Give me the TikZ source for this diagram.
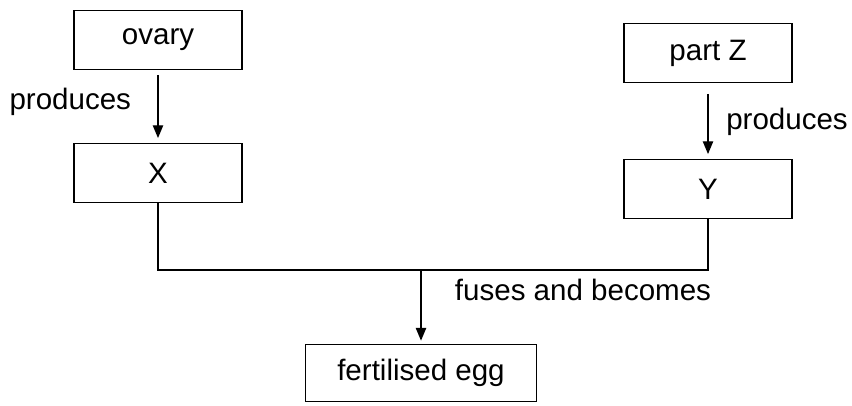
\documentclass[tikz,border=0pt]{standalone}
\usepackage{fontspec}
\setmainfont{Liberation Sans}
\usetikzlibrary{arrows.meta, positioning}
\tikzset{
	box/.style={draw=black, line width=0.9pt, minimum width=4.2cm, minimum height=1.475cm, inner sep=0pt},
	arrowline/.style={line width=0.9pt, -{Triangle[length=0.32cm, width=0.26cm]}}
}

\begin{document}
\begin{tikzpicture}[x=0.025cm, y=-0.025cm, every node/.append style={font=\fontsize{21}{25}\selectfont}]
	\useasboundingbox (0,0) rectangle (852,406);
	\node[box] at (158, 40) (ovary){ovary};
	\node[box] at (158, 173) (X){X};
	\node[box] at (708, 53) (partZ){part Z};
	\node[box] at (708, 189) (Y){Y};
	\node[box, minimum width=5.775cm, minimum height=1.425cm] at (421, 373) (egg){fertilised egg};
	\node[anchor=base east] at (136, 110) (prodL){produces};
	\node[anchor=base west, inner sep=0pt] at (726, 130) (prodR){produces};
	\node[anchor=base west] at (450, 300) (fuses){fuses and becomes};
	\coordinate (join) at (421, 270);
		\draw[arrowline, shorten <=0.12cm, shorten >=0.12cm] (ovary) -- (X);
		\draw[arrowline, shorten <=0.27cm, shorten >=0.12cm] (partZ) -- (Y);
		\draw[line width=0.9pt] (X.south) |- (join) -| (Y.south);
		\draw[arrowline, shorten >=0.08cm] (join) -- (egg);
\end{tikzpicture}
\end{document}
